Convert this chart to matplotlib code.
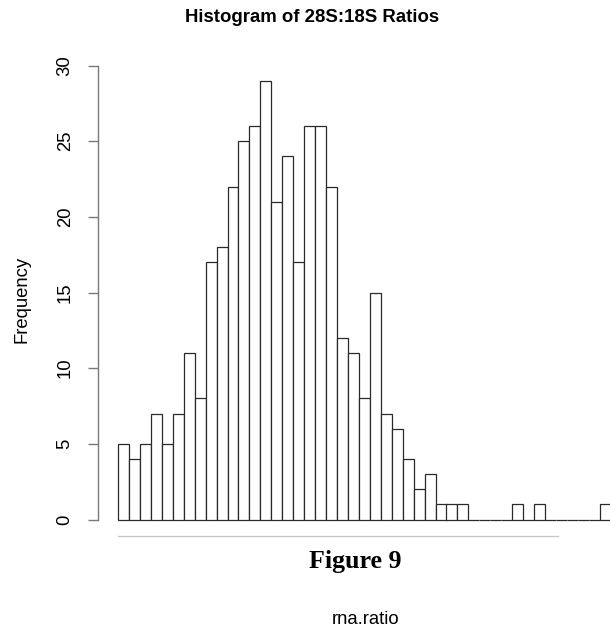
import numpy as np
import matplotlib
matplotlib.use("Agg")
import matplotlib.pyplot as plt
from matplotlib.lines import Line2D

# Histogram counts of the 28S:18S ratio, one value per bin
counts = [5, 4, 5, 7, 5, 7, 11, 8, 17, 18, 22, 25, 26, 29, 21, 24, 17, 26, 26, 22,
          12, 11, 8, 15, 7, 6, 4, 2, 3, 1, 1, 1, 0, 0, 0, 0, 1, 0, 1, 0,
          0, 0, 0, 0, 1]
bin_start = 0.60
bin_width = 0.05
y_ticks = [0, 5, 10, 15, 20, 25, 30]

edges = bin_start + bin_width * np.arange(len(counts) + 1)

W, H, DPI = 610, 629, 100
fig = plt.figure(figsize=(W / DPI, H / DPI), dpi=DPI)
plt.rcParams["font.family"] = ["Liberation Sans", "DejaVu Sans"]

# plotting region in pixels
ax_left_px, ax_right_px = 98, 612
bars_left_px = 118
bar_px = 10.95
y0_px, y30_px = 519.5, 65.5

ax = fig.add_axes([ax_left_px / W, 1 - y0_px / H,
                   (ax_right_px - ax_left_px) / W, (y0_px - y30_px) / H])
ppu = bar_px / bin_width
ax.set_xlim(edges[0] - (bars_left_px - ax_left_px) / ppu,
            edges[0] + (ax_right_px - bars_left_px) / ppu)
ax.set_ylim(0, 30)

ax.bar(edges[:-1], counts, width=bin_width, align="edge",
       facecolor="white", edgecolor="#2a2a2a", linewidth=0.9, clip_on=False)

for s in ["top", "right", "bottom"]:
    ax.spines[s].set_visible(False)
ax.spines["left"].set_bounds(0, 30)
ax.spines["left"].set_color("#7a7a7a")
ax.spines["left"].set_linewidth(1.0)
ax.set_xticks([])
ax.set_yticks(y_ticks)
ax.set_yticklabels([str(t) for t in y_ticks])
ax.tick_params(axis="y", length=7.5, width=1.0, color="#7a7a7a",
               labelsize=13.3, labelrotation=90, pad=10)
for lbl in ax.get_yticklabels():
    lbl.set_verticalalignment("center")

fig.text(312 / W, 1 - 17 / H, "Histogram of 28S:18S Ratios",
         ha="center", va="center", fontsize=13.4, fontweight="bold")
fig.text(22 / W, 1 - 299 / H, "Frequency", rotation=90,
         ha="center", va="center", fontsize=13.3)
fig.text(366 / W, 1 - 624 / H, "rna.ratio", ha="center", va="baseline",
         fontsize=13.3)

fig.add_artist(Line2D([118 / W, 558 / W], [1 - 536 / H, 1 - 536 / H],
                      transform=fig.transFigure, color="#c8c8c8", linewidth=1.0))
fig.text(355 / W, 1 - 568 / H, "Figure 9", ha="center", va="baseline",
         fontsize=18.7, fontweight="bold", family=["Liberation Serif", "DejaVu Serif"])

fig.savefig("out.png", dpi=DPI)
